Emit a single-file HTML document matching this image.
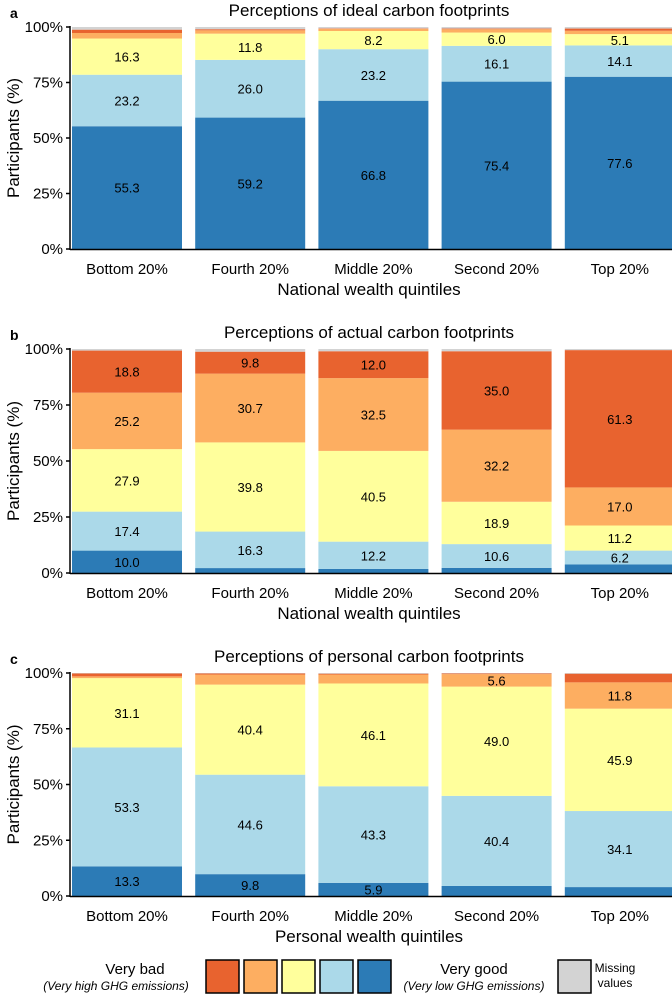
<!DOCTYPE html>
<html><head><meta charset="utf-8"><style>
body{margin:0;background:#fff;font-family:"Liberation Sans",Arial,sans-serif}
svg text{font-family:"Liberation Sans",Arial,sans-serif}
</style></head><body>
<svg id="c" width="672" height="1000" xmlns="http://www.w3.org/2000/svg"></svg>
<script>
const categories=["Bottom 20%","Fourth 20%","Middle 20%","Second 20%","Top 20%"];
const idealVeryGood=[55.3,59.2,66.8,75.4,77.6];
const idealGood=[23.2,26.0,23.2,16.1,14.1];
const idealNeutral=[16.3,11.8,8.2,6.0,5.1];
const idealBad=[2.5,1.5,1.0,1.5,1.5];
const idealVeryBad=[1.5,0.5,0.2,0.3,1.0];
const idealMissing=[1.2,1.0,0.6,0.7,0.7];
const actualVeryGood=[10.0,2.2,1.8,2.3,3.8];
const actualGood=[17.4,16.3,12.2,10.6,6.2];
const actualNeutral=[27.9,39.8,40.5,18.9,11.2];
const actualBad=[25.2,30.7,32.5,32.2,17.0];
const actualVeryBad=[18.8,9.8,12.0,35.0,61.3];
const actualMissing=[0.7,1.2,1.0,1.0,0.5];
const personalVeryGood=[13.3,9.8,5.9,4.5,4.0];
const personalGood=[53.3,44.6,43.3,40.4,34.1];
const personalNeutral=[31.1,40.4,46.1,49.0,45.9];
const personalBad=[0.8,4.5,4.0,5.6,11.8];
const personalVeryBad=[1.3,0.5,0.4,0.3,3.9];
const personalMissing=[0.2,0.2,0.3,0.2,0.3];
const tickValues=[0,25,50,75,100];
const tickLabels=["0%","25%","50%","75%","100%"];

const colors=["#2c7bb6","#abd9e9","#ffff9c","#fdae61","#e8632f","#d3d3d3"];
const NS="http://www.w3.org/2000/svg";
const svg=document.getElementById('c');
function el(t,a,txt){const e=document.createElementNS(NS,t);for(const k in a)e.setAttribute(k,a[k]);if(txt!=null)e.textContent=txt;svg.appendChild(e);return e;}

const panels=[
 {letter:"a",title:"Perceptions of ideal carbon footprints",xt:"National wealth quintiles",top:27,bot:249,series:[idealVeryGood,idealGood,idealNeutral,idealBad,idealVeryBad,idealMissing],key:"ideal"},
 {letter:"b",title:"Perceptions of actual carbon footprints",xt:"National wealth quintiles",top:349,bot:573,series:[actualVeryGood,actualGood,actualNeutral,actualBad,actualVeryBad,actualMissing],key:"actual"},
 {letter:"c",title:"Perceptions of personal carbon footprints",xt:"Personal wealth quintiles",top:673,bot:896,series:[personalVeryGood,personalGood,personalNeutral,personalBad,personalVeryBad,personalMissing],key:"personal"}
];
const segNames=["very-good","good","neutral","bad","very-bad","missing"];
const x0=72,step=123.2,bw=110;
function xPos(i){return x0+i*step;}
panels.forEach(p=>{
 const y=v=>p.bot-(v/100)*(p.bot-p.top);
 let t=el('text',{x:10,y:p.top-9,'font-size':14,'font-weight':'bold'},p.letter);
 
 
 t=el('text',{x:369,y:p.top-11,'font-size':17,'text-anchor':'middle'},p.title);
 
 
 categories.forEach((c,i)=>{
  let cum=0;
  p.series.forEach((s,k)=>{
   const v=s[i];
   const r=el('rect',{x:xPos(i),y:y(cum+v),width:bw,height:Math.max(0,y(cum)-y(cum+v)),fill:colors[k]});
   
   
   if(k<5&&v>=5){
    const l=el('text',{x:xPos(i)+bw/2,y:y(cum+v/2)+5,'font-size':13,'text-anchor':'middle'},v.toFixed(1));
    
    
   }
   cum+=v;
  });
  const xl=el('text',{x:xPos(i)+bw/2,y:p.bot+25,'font-size':15,'text-anchor':'middle'},c);
  
  
 });
 let ax=el('line',{x1:70,x2:70,y1:p.top-1,y2:p.bot+1,stroke:'#000','stroke-width':1.5});
 
 
 ax=el('line',{x1:70,x2:672,y1:p.bot+0.5,y2:p.bot+0.5,stroke:'#000','stroke-width':1.5});
 
 
 tickValues.forEach((v,j)=>{
  const tk=el('line',{x1:66,x2:70,y1:y(v),y2:y(v),stroke:'#000','stroke-width':1.5});
  
  
  const tl=el('text',{x:63,y:y(v)+5,'font-size':15,'text-anchor':'end'},tickLabels[j]);
  
  
 });
 const mid=(p.top+p.bot)/2;
 t=el('text',{x:0,y:0,'font-size':17,'text-anchor':'middle',transform:`translate(19,${mid}) rotate(-90)`},"Participants (%)");
 
 
 t=el('text',{x:369,y:p.bot+46,'font-size':17,'text-anchor':'middle'},p.xt);
 
 
});
// legend
let t=el('text',{x:135,y:974,'font-size':15,'text-anchor':'middle'},"Very bad");

t=el('text',{x:116,y:990,'font-size':12,'font-style':'italic','text-anchor':'middle'},"(Very high GHG emissions)");

const lx=[206,244,282,320,358];
[4,3,2,1,0].forEach((k,j)=>{
 const r=el('rect',{x:lx[j],y:960,width:33,height:33,fill:colors[k],stroke:'#000','stroke-width':1.5});
 
 
});
t=el('text',{x:474,y:974,'font-size':15,'text-anchor':'middle'},"Very good");

t=el('text',{x:474,y:990,'font-size':12,'font-style':'italic','text-anchor':'middle'},"(Very low GHG emissions)");

let r=el('rect',{x:558,y:960,width:33,height:33,fill:colors[5],stroke:'#000','stroke-width':1.5});

t=el('text',{x:615,y:972,'font-size':12,'text-anchor':'middle'},"Missing");

t=el('text',{x:615,y:987,'font-size':12,'text-anchor':'middle'},"values");

</script>
</body></html>
